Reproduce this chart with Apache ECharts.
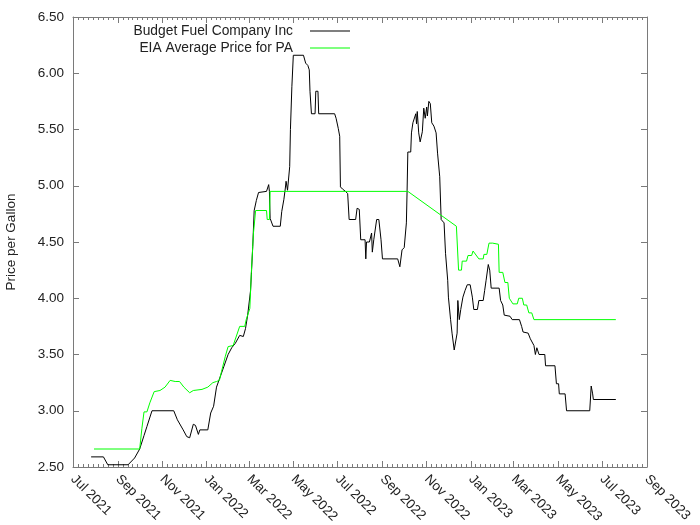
<!DOCTYPE html>
<html>
<head>
<meta charset="utf-8">
<script src="https://cdn.jsdelivr.net/npm/echarts@6/dist/echarts.min.js"></script>
<style>
html,body{margin:0;padding:0;background:#fff;}
#chart{width:700px;height:525px;}
</style>
</head>
<body>
<div id="chart"></div>
<script>
// ---- Data ----
const budgetName = 'Budget Fuel Company Inc';
const eiaName = 'EIA Average Price for PA';

const budgetDates = [
'2021-07-26','2021-08-12','2021-08-18','2021-09-15','2021-09-24','2021-10-01','2021-10-07','2021-10-11','2021-10-18','2021-11-17',
'2021-11-22','2021-11-30','2021-12-05','2021-12-09','2021-12-14','2021-12-17','2021-12-21','2021-12-23','2022-01-03','2022-01-07',
'2022-01-11','2022-01-15','2022-01-20','2022-01-25','2022-01-31','2022-02-05','2022-02-10','2022-02-16','2022-02-21','2022-02-24',
'2022-02-27','2022-03-03','2022-03-06','2022-03-08','2022-03-11','2022-03-14','2022-03-25','2022-03-28','2022-03-29','2022-03-30',
'2022-04-03','2022-04-13','2022-04-15','2022-04-18','2022-04-20','2022-04-21','2022-04-23','2022-04-25','2022-04-26','2022-04-27',
'2022-04-29','2022-05-01','2022-05-15','2022-05-18','2022-05-21','2022-05-23','2022-05-24','2022-05-26','2022-05-31','2022-06-01',
'2022-06-04','2022-06-05','2022-06-27','2022-06-29','2022-07-02','2022-07-04','2022-07-05','2022-07-08','2022-07-12','2022-07-15',
'2022-07-17','2022-07-26','2022-07-28','2022-07-31','2022-08-02','2022-08-08','2022-08-09','2022-08-10','2022-08-14','2022-08-17',
'2022-08-18','2022-08-20','2022-08-24','2022-08-27','2022-08-30','2022-09-01','2022-09-22','2022-09-25','2022-09-27','2022-09-28',
'2022-10-01','2022-10-04','2022-10-05','2022-10-06','2022-10-10','2022-10-11','2022-10-13','2022-10-15','2022-10-17','2022-10-18',
'2022-10-19','2022-10-21','2022-10-23','2022-10-26','2022-10-28','2022-10-30','2022-11-01','2022-11-02','2022-11-04','2022-11-06',
'2022-11-08','2022-11-11','2022-11-14','2022-11-16','2022-11-19','2022-11-21','2022-11-25','2022-11-27','2022-11-30','2022-12-01',
'2022-12-04','2022-12-06','2022-12-09','2022-12-11','2022-12-13','2022-12-14','2022-12-16','2022-12-18','2022-12-20','2022-12-21',
'2022-12-24','2022-12-27','2022-12-31','2023-01-03','2023-01-05','2023-01-10','2023-01-12','2023-01-18','2023-01-20','2023-01-22',
'2023-01-25','2023-01-27','2023-01-29','2023-02-09','2023-02-11','2023-02-14','2023-02-16','2023-02-24','2023-02-27','2023-03-09',
'2023-03-12','2023-03-14','2023-03-21','2023-03-24','2023-03-29','2023-03-31','2023-04-02','2023-04-05','2023-04-13','2023-04-14',
'2023-04-27','2023-04-29','2023-05-02','2023-05-03','2023-05-11','2023-05-13','2023-06-14','2023-06-16','2023-06-18','2023-06-19',
'2023-07-20'
];
const budgetPrices = [
2.59,2.59,2.52,2.52,2.58,2.66,2.78,2.86,3.00,3.00,
2.92,2.83,2.77,2.76,2.88,2.87,2.79,2.83,2.83,2.98,
3.04,3.21,3.30,3.39,3.50,3.56,3.60,3.67,3.66,3.73,
3.85,4.07,4.46,4.78,4.87,4.94,4.95,5.01,4.95,4.71,
4.64,4.64,4.77,4.88,4.98,5.04,4.96,4.96,5.17,5.50,
5.88,6.16,6.16,6.09,6.07,6.03,5.84,5.64,5.64,5.84,
5.84,5.64,5.64,5.60,5.51,5.44,4.99,4.97,4.95,4.93,
4.70,4.70,4.80,4.79,4.52,4.52,4.35,4.50,4.50,4.58,
4.41,4.52,4.70,4.70,4.52,4.35,4.35,4.28,4.28,4.43,
4.45,4.67,4.96,5.30,5.30,5.47,5.56,5.56,5.64,5.55,
5.66,5.47,5.39,5.48,5.69,5.60,5.70,5.62,5.75,5.73,
5.56,5.53,5.47,5.29,5.08,4.70,4.67,4.40,4.16,4.01,
3.81,3.69,3.54,3.54,3.69,3.98,3.81,3.90,3.90,4.01,
4.07,4.12,4.12,4.01,3.90,3.90,3.98,3.98,4.07,4.16,
4.30,4.25,4.09,4.09,3.98,3.94,3.85,3.84,3.81,3.81,
3.75,3.70,3.69,3.64,3.58,3.50,3.56,3.50,3.50,3.40,
3.40,3.24,3.24,3.15,3.15,3.00,3.00,3.22,3.15,3.10,
3.10
];

const eiaDates = [
'2021-07-30','2021-10-01','2021-10-04','2021-10-07','2021-10-11','2021-10-15','2021-10-21','2021-10-29','2021-11-05','2021-11-12',
'2021-11-19','2021-11-25','2021-12-01','2021-12-09','2021-12-14','2021-12-26','2022-01-03','2022-01-10','2022-01-15','2022-01-19',
'2022-01-22','2022-01-27','2022-01-31','2022-02-07','2022-02-16','2022-02-23','2022-02-25','2022-03-02','2022-03-04','2022-03-07',
'2022-03-10','2022-03-25','2022-03-26','2022-03-29','2022-03-30','2022-10-06','2022-12-12','2022-12-14','2022-12-15','2022-12-19',
'2022-12-20','2022-12-26','2022-12-28','2023-01-02','2023-01-04','2023-01-06','2023-01-12','2023-01-18','2023-01-19','2023-01-23',
'2023-01-26','2023-01-31','2023-02-08','2023-02-09','2023-02-14','2023-02-17','2023-02-21','2023-02-23','2023-02-28','2023-03-06',
'2023-03-08','2023-03-13','2023-03-15','2023-03-19','2023-03-22','2023-03-26','2023-03-29','2023-07-20'
];
const eiaPrices = [
2.66,2.66,2.84,2.99,2.99,3.07,3.17,3.18,3.21,3.27,
3.26,3.26,3.21,3.16,3.18,3.19,3.21,3.25,3.26,3.27,
3.35,3.48,3.57,3.58,3.75,3.75,3.81,3.91,4.22,4.58,
4.78,4.78,4.70,4.70,4.95,4.95,4.64,4.64,4.25,4.25,
4.33,4.33,4.38,4.38,4.42,4.43,4.35,4.35,4.39,4.39,
4.49,4.49,4.48,4.23,4.23,4.14,4.14,4.00,3.95,3.95,
4.00,4.00,3.94,3.94,3.87,3.87,3.81,3.81
];

// Axis ticks: month starts every 2 months, Jul 2021 .. Sep 2023
const tickMonths = [
[2021,7],[2021,9],[2021,11],[2022,1],[2022,3],[2022,5],[2022,7],
[2022,9],[2022,11],[2023,1],[2023,3],[2023,5],[2023,7],[2023,9]
];
const monthNames = ['Jan','Feb','Mar','Apr','May','Jun','Jul','Aug','Sep','Oct','Nov','Dec'];
const yTickMin = 2.5, yTickMax = 6.5, yTickStep = 0.5;
const yAxisTitle = 'Price per Gallon';

// ---- Build ----
const ts = (s) => { const [y, m, d] = s.split('-').map(Number); return Date.UTC(y, m - 1, d); };
const majorTicks = tickMonths.map(([y, m]) => Date.UTC(y, m - 1, 1));
const minorTicks = [];
for (let i = 0; i < majorTicks.length - 1; i++) {
  const a = majorTicks[i], b = majorTicks[i + 1];
  for (let k = 1; k < 9; k++) minorTicks.push(a + (b - a) * k / 9);
}
const xMin = majorTicks[0], xMax = majorTicks[majorTicks.length - 1];
const toPairs = (d, v) => d.map((s, i) => [ts(s), v[i]]);

const FONT = "'Liberation Sans', Arial, sans-serif";
const AXIS_COLOR = '#7a7a7a';
const FS = 13.5;

function xAxisBase(pos, ticks, len, showLine, showLabel) {
  return {
    type: 'value', min: xMin, max: xMax, position: pos, scale: true,
    axisLine: { show: showLine, lineStyle: { color: AXIS_COLOR, width: 1 } },
    axisTick: { show: true, inside: true, length: len, customValues: ticks, lineStyle: { color: AXIS_COLOR } },
    axisLabel: showLabel ? {
      show: true, customValues: ticks, rotate: -45, margin: 10, color: '#222', fontSize: FS, fontFamily: FONT,
      formatter: (v) => { const d = new Date(v); return monthNames[d.getUTCMonth()] + ' ' + d.getUTCFullYear(); }
    } : { show: false },
    splitLine: { show: false }
  };
}

const legendCommon = { right: 350, padding: 0, align: 'right', icon: 'rect', itemWidth: 40, itemHeight: 1,
  textStyle: { fontSize: 13.8, color: '#222', fontFamily: FONT, padding: [0, 12, 0, 0] } };

const chart = echarts.init(document.getElementById('chart'), null, { renderer: 'canvas' });
chart.setOption({
  animation: false,
  backgroundColor: '#fff',
  textStyle: { fontFamily: FONT },
  grid: { left: 73, right: 53, top: 17, bottom: 58, containLabel: false, outerBoundsMode: 'none' },
  legend: [
    Object.assign({ data: [budgetName], top: 24 }, legendCommon),
    Object.assign({ data: [eiaName], top: 41 }, legendCommon)
  ],
  xAxis: [
    xAxisBase('bottom', majorTicks, 6, true, true),
    xAxisBase('top', majorTicks, 6, true, false),
    xAxisBase('bottom', minorTicks, 3, false, false),
    xAxisBase('top', minorTicks, 3, false, false)
  ],
  yAxis: [
    { type: 'value', min: yTickMin, max: yTickMax, interval: yTickStep, position: 'left',
      name: yAxisTitle, nameLocation: 'middle', nameGap: 55,
      nameTextStyle: { fontSize: FS, color: '#222', fontFamily: FONT },
      axisLine: { show: true, lineStyle: { color: AXIS_COLOR } },
      axisTick: { show: true, inside: true, length: 6, lineStyle: { color: AXIS_COLOR } },
      axisLabel: { color: '#222', fontSize: FS, margin: 9, fontFamily: FONT, formatter: v => v.toFixed(2) },
      splitLine: { show: false } },
    { type: 'value', min: yTickMin, max: yTickMax, interval: yTickStep, position: 'right',
      axisLine: { show: true, lineStyle: { color: AXIS_COLOR } },
      axisTick: { show: true, inside: true, length: 6, lineStyle: { color: AXIS_COLOR } },
      axisLabel: { show: false }, splitLine: { show: false } }
  ],
  series: [
    { name: budgetName, type: 'line', data: toPairs(budgetDates, budgetPrices), showSymbol: false, symbol: 'none',
      lineStyle: { color: '#000', width: 1 }, itemStyle: { color: '#000' } },
    { name: eiaName, type: 'line', data: toPairs(eiaDates, eiaPrices), showSymbol: false, symbol: 'none',
      lineStyle: { color: '#00ff00', width: 1 }, itemStyle: { color: '#00ff00' } }
  ]
});
</script>
</body>
</html>
